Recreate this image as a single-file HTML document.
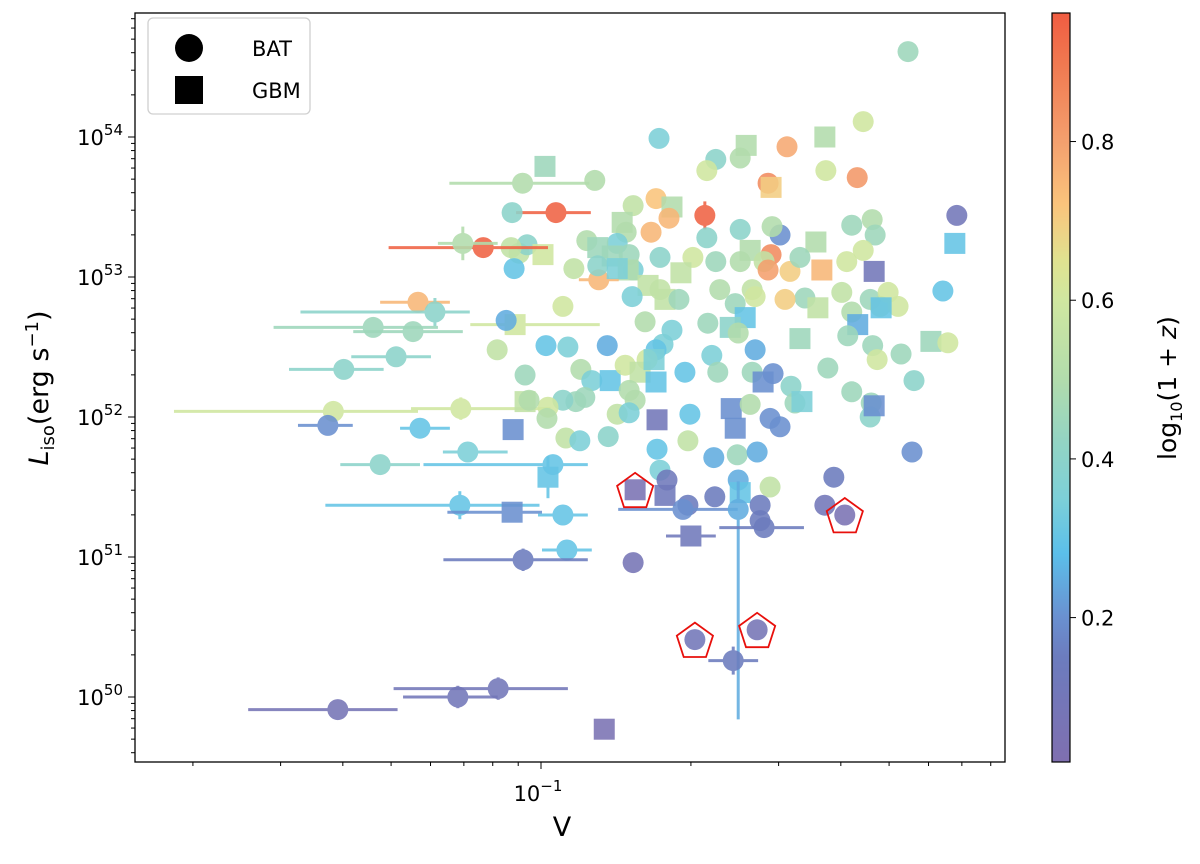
<!DOCTYPE html>
<html><head><meta charset="utf-8"><style>
body{margin:0;background:#fff;}
svg text{font-family:"DejaVu Sans","Liberation Sans",sans-serif;fill:#000;}
</style></head><body>
<svg id="chart" width="1200" height="859" viewBox="0 0 1200 859" xmlns="http://www.w3.org/2000/svg">
<defs><linearGradient id="cbg" x1="0" y1="1" x2="0" y2="0"></linearGradient></defs>
<g id="marks"></g>
<g id="axes"></g>
</svg>
<script>
const logV=[-0.263,-0.763,-0.353,-0.430,-0.588,-0.506,-0.649,-0.667,-0.600,-0.992,-1.037,-0.892,-0.428,-0.365,-0.544,-0.538,-0.769,-0.815,-0.737,-0.970,-0.671,-1.058,-0.743,-0.779,-0.829,-0.837,-0.376,-0.335,-0.520,-0.600,-0.536,-0.667,-0.580,-0.448,-0.329,-0.353,-0.169,-0.165,-0.538,-0.847,-0.908,-0.886,-0.857,-0.823,-0.761,-0.695,-0.649,-0.600,-0.552,-0.500,-0.544,-0.480,-0.436,-0.386,-0.331,-0.815,-0.719,-0.825,-0.884,-0.934,-1.044,-1.054,-1.028,-0.996,-1.060,-0.886,-0.847,-0.785,-0.761,-0.751,-0.723,-0.817,-0.641,-0.576,-0.470,-0.396,-0.610,-0.570,-0.510,-0.376,-0.339,-0.319,-0.303,-0.283,-0.193,-0.317,-0.444,-0.665,-0.737,-0.755,-0.791,-0.769,-0.787,-0.590,-0.620,-0.480,-0.364,-0.424,-0.384,-0.334,-0.325,-0.277,-0.251,-0.337,-0.339,-0.376,-0.331,-0.217,-0.183,-0.255,-1.247,-1.213,-1.337,-1.257,-1.291,-1.396,-1.417,-1.428,-1.161,-1.243,-1.323,-1.052,-1.070,-0.956,-1.088,-0.990,-1.032,-1.032,-0.946,-0.867,-0.920,-0.898,-0.861,-0.831,-0.801,-0.769,-0.773,-0.912,-0.930,-0.956,-0.986,-1.024,-0.988,-1.056,-0.950,-0.865,-0.847,-0.823,-0.811,-0.823,-0.767,-0.767,-0.761,-0.705,-0.701,-0.711,-0.657,-0.645,-0.604,-0.570,-0.576,-0.554,-0.534,-0.498,-0.490,-0.540,-0.520,-0.618,-0.610,-0.580,-0.606,-0.604,-0.653,-0.566,-0.476,-0.540,-0.600,-0.922,-0.976,-0.986,-1.147,-1.163,-1.058,-0.956,-0.948,-1.036,-0.815,-0.811,-0.747,-0.751,-0.705,-0.715,-0.651,-0.604,-0.560,-0.560,-0.552,-0.699,-0.430,-0.412,-0.390,-0.691,-0.566,-0.614,-1.086,-1.167,-1.408,-0.873,-1.116,-1.157];
const logL=[54.61,53.99,54.11,54.00,53.94,53.93,53.84,53.76,53.85,53.79,53.67,53.69,53.76,53.71,53.67,53.64,53.56,53.51,53.50,53.46,53.44,53.46,53.42,53.32,53.32,53.39,53.37,53.41,53.30,53.34,53.36,53.28,53.19,53.25,53.30,53.19,53.24,53.44,53.16,53.24,53.26,53.21,53.15,53.16,53.14,53.14,53.11,53.11,53.11,53.04,53.05,53.14,53.05,53.11,53.04,53.05,53.03,53.05,52.98,53.06,53.17,53.06,53.23,53.16,53.21,53.08,53.06,52.94,52.91,52.84,52.84,52.86,52.91,52.91,52.85,52.89,52.81,52.86,52.84,52.75,52.84,52.79,52.89,52.79,52.90,52.78,52.78,52.67,52.62,52.52,52.68,52.48,52.41,52.71,52.64,52.56,52.66,52.35,52.58,52.51,52.41,52.45,52.26,52.10,52.00,52.18,52.08,52.54,52.53,51.75,52.82,52.75,52.64,52.61,52.43,52.34,52.04,51.94,52.06,51.92,51.66,52.66,52.69,52.79,52.48,52.51,52.30,52.11,52.50,52.51,52.34,52.26,52.26,52.37,52.32,52.25,52.41,52.14,52.11,52.12,52.07,52.12,51.99,51.91,51.85,51.86,52.02,52.19,52.12,52.03,51.98,51.77,51.62,51.83,52.02,52.32,52.44,52.32,52.60,52.48,52.32,52.25,52.31,52.22,52.10,51.99,51.93,52.06,51.92,52.09,51.73,51.55,51.71,51.75,52.11,51.50,51.46,51.83,51.66,51.57,51.75,51.37,51.32,51.30,51.05,50.98,50.96,51.48,51.55,51.44,51.37,51.34,51.43,51.34,51.37,51.26,51.21,51.15,51.37,51.57,51.30,50.41,50.48,50.26,50.06,50.00,49.91,49.77,53.21,53.24];
const zc=[.45,.35,.6,.5,.5,.78,.4,.6,.5,.45,.5,.5,.6,.82,.85,.7,.72,.55,.5,.95,.95,.4,.75,.75,.5,.5,.45,.5,.2,.4,.5,.4,.5,.5,.45,.6,.3,.1,.85,.35,.5,.45,.45,.45,.4,.6,.45,.5,.55,.7,.8,.45,.75,.6,.1,.35,.55,.5,.75,.55,.55,.3,.4,.6,.55,.4,.35,.55,.55,.55,.45,.35,.5,.55,.45,.55,.45,.6,.7,.5,.45,.5,.6,.6,.3,.3,.55,.45,.35,.35,.5,.3,.6,.3,.4,.45,.25,.45,.45,.45,.6,.45,.4,.45,.4,.45,.2,.45,.6,.2,.75,.4,.45,.45,.4,.4,.6,.2,.6,.3,.4,.6,.25,.6,.55,.3,.45,.55,.35,.25,.5,.35,.3,.6,.55,.3,.35,.45,.45,.4,.6,.5,.5,.2,.55,.4,.55,.5,.5,.35,.1,.3,.35,.55,.3,.3,.35,.45,.5,.25,.45,.2,.2,.4,.45,.2,.2,.2,.2,.5,.45,.25,.25,.25,.35,.55,.3,.35,.3,.3,.35,.3,.2,.3,.3,.15,.08,.05,.12,.12,.15,.2,.15,.25,.15,.15,.15,.12,.1,.15,.05,.1,.08,.15,.1,.1,.08,.05,.95,.5];
const squareIdx=[3,4,9,15,18,25,32,33,36,41,42,52,54,56,57,63,66,67,69,85,86,93,94,95,96,106,107,121,127,132,134,135,136,143,150,161,167,168,174,176,179,182,187,189,197,207];
const errIdx=[10,19,20,58,110,111,112,113,114,115,116,117,118,119,120,121,178,179,180,181,182,183,184,185,191,193,196,197,203,204,205,206,208,209];
const errXlo=[.147,.08,.02,.04,.076,.27,.2,.12,.09,.11,.32,.06,.1,.04,.08,.09,.26,.02,.05,.27,.13,.05,.05,.16,.13,.02,.09,.05,.05,.21,.11,.18,.19,.05];
const errXhi=[.134,.07,.02,.04,.064,.07,.13,.1,.07,.08,.17,.05,.18,.06,.08,.17,.07,.02,.08,.16,.06,.05,.05,.13,.11,.02,.08,.05,.05,.14,.08,.12,.13,.07];
const errYlo=[.04,.03,.1,.04,.04,.1,.04,.04,.04,.04,.04,.04,.08,.04,.04,.04,.04,.15,.04,.1,.04,.04,.04,.08,.04,1.5,.04,.04,.1,.08,.08,.04,.05,.12];
const errYhi=[.04,.03,.1,.04,.04,.1,.04,.04,.04,.04,.04,.04,.08,.04,.04,.04,.04,.15,.04,.1,.04,.04,.04,.08,.04,.2,.04,.04,.1,.08,.08,.04,.05,.12];
const flagged=[187,200,201,202];
const yTicks=[50,51,52,53,54];
const cbTicks=[0.2,0.4,0.6,0.8];

const NS="http://www.w3.org/2000/svg";
const X0=135,X1=1005,Y0=13,Y1=762;
const xs=lv=>541+(lv+1)*498;
const ys=ll=>277-(ll-53)*140;
const cbMin=0.018,cbMax=0.962;
const cbY=v=>762-(v-cbMin)/(cbMax-cbMin)*749;
const stops=[[0.02,[127,111,176]],[0.15,[108,124,190]],[0.2,[106,144,208]],[0.28,[91,191,234]],[0.35,[125,208,216]],[0.42,[146,212,196]],[0.5,[178,220,172]],[0.6,[208,231,160]],[0.65,[224,226,144]],[0.72,[250,196,124]],[0.8,[244,160,110]],[0.9,[240,120,80]],[0.96,[240,93,66]]];
function col(v){
  if(v<=stops[0][0])return 'rgb('+stops[0][1]+')';
  for(let i=1;i<stops.length;i++){if(v<=stops[i][0]){const a=stops[i-1],b=stops[i],t=(v-a[0])/(b[0]-a[0]);return 'rgb('+a[1].map((c,k)=>Math.round(c+(b[1][k]-c)*t)).join(',')+')';}}
  return 'rgb('+stops[stops.length-1][1]+')';
}
function mk(tag,attrs,parent){const e=document.createElementNS(NS,tag);for(const k in attrs)e.setAttribute(k,attrs[k]);parent.appendChild(e);return e;}
const marks=document.getElementById('marks');
const axes=document.getElementById('axes');

for(let i=0;i<logV.length;i++){
  const g=mk('g',{opacity:0.88},marks);
  
  
  const c=col(zc[i]);const x=xs(logV[i]),y=ys(logL[i]);
  const j=errIdx.indexOf(i);
  const xl=j>=0?errXlo[j]:0.02,xh=j>=0?errXhi[j]:0.02,yl=j>=0?errYlo[j]:0.04,yh=j>=0?errYhi[j]:0.04;
  mk('line',{x1:xs(logV[i]-xl),x2:xs(logV[i]+xh),y1:y,y2:y,stroke:c,'stroke-width':3},g);
  mk('line',{x1:x,x2:x,y1:ys(logL[i]-yl),y2:ys(logL[i]+yh),stroke:c,'stroke-width':3},g);
  if(squareIdx.indexOf(i)>=0) mk('rect',{x:x-10.5,y:y-10.5,width:21,height:21,fill:c},g);
  else mk('circle',{cx:x,cy:y,r:10.5,fill:c},g);
}
for(const i of flagged){
  const x=xs(logV[i]),y=ys(logL[i]);let p=[];
  for(let k=0;k<5;k++){const a=-Math.PI/2+k*2*Math.PI/5;p.push((x+19*Math.cos(a)).toFixed(1)+','+(y+2+19*Math.sin(a)).toFixed(1));}
  const pg=mk('polygon',{points:p.join(' '),fill:'none',stroke:'#e8100c','stroke-width':1.8},marks);
  
  
}
const fr=mk('rect',{x:X0,y:Y0,width:X1-X0,height:Y1-Y0,fill:'none',stroke:'#000','stroke-width':1.3},axes);


for(let d=49;d<=54;d++){
  for(let m=1;m<10;m++){
    const v=d+Math.log10(m);const y=ys(v);if(y<Y0||y>Y1)continue;
    mk('line',{x1:X0,x2:X0-(m===1?7:4),y1:y,y2:y,stroke:'#000','stroke-width':1},axes);
  }
}
for(const t of yTicks){
  const tx=mk('text',{x:X0-12,y:ys(t)+8,'text-anchor':'end','font-size':21},axes);
  
  
  tx.innerHTML='10<tspan dy="-10" font-size="15">'+t+'</tspan>';
}
for(let d=-2;d<=-1;d++){
  for(let m=1;m<10;m++){
    const v=d+Math.log10(m);const x=xs(v);if(x<X0||x>X1)continue;
    mk('line',{x1:x,x2:x,y1:Y1,y2:Y1+(m===1?7:4),stroke:'#000','stroke-width':1},axes);
  }
}
const xt=mk('text',{x:xs(-1)-3,y:801,'text-anchor':'middle','font-size':21},axes);


xt.innerHTML='10<tspan dy="-10" font-size="15">−1</tspan>';
const xl=mk('text',{x:562,y:836,'text-anchor':'middle','font-size':27},axes);


xl.textContent='V';
const yl=mk('text',{transform:'translate(48,388) rotate(-90)','text-anchor':'middle','font-size':27},axes);


yl.innerHTML='<tspan font-style="italic">L</tspan><tspan dy="6" font-size="18">iso</tspan><tspan dy="-6">(erg s</tspan><tspan dy="-10" font-size="18">−1</tspan><tspan dy="10">)</tspan>';
const lg=mk('g',{},axes);


mk('rect',{x:148,y:18,width:162,height:96,rx:5,fill:'#fff',stroke:'#d0d0d0','stroke-width':1.3},lg);
mk('circle',{cx:189,cy:48,r:14,fill:'#000'},lg);
mk('rect',{x:175,y:76,width:28,height:28,fill:'#000'},lg);
const l1=mk('text',{x:252,y:56,'font-size':21},lg);l1.textContent='BAT';


const l2=mk('text',{x:252,y:98,'font-size':21},lg);l2.textContent='GBM';


const grad=document.getElementById('cbg');
for(const s of stops){mk('stop',{offset:((s[0]-cbMin)/(cbMax-cbMin)).toFixed(3),'stop-color':'rgb('+s[1]+')'},grad);}
const cb=mk('rect',{x:1052,y:13,width:18,height:749,fill:'url(#cbg)',stroke:'#000','stroke-width':1.2},axes);


for(const t of cbTicks){
  const y=cbY(t);
  mk('line',{x1:1070,x2:1076,y1:y,y2:y,stroke:'#000','stroke-width':1},axes);
  const tt=mk('text',{x:1081,y:y+8,'font-size':21},axes);
  
  
  tt.textContent=t.toFixed(1);
}
const cl=mk('text',{transform:'translate(1176,388) rotate(-90)','text-anchor':'middle','font-size':25},axes);


cl.innerHTML='log<tspan dy="6" font-size="16">10</tspan><tspan dy="-6">(1 + </tspan><tspan font-style="italic">z</tspan>)';
</script>
</body></html>
